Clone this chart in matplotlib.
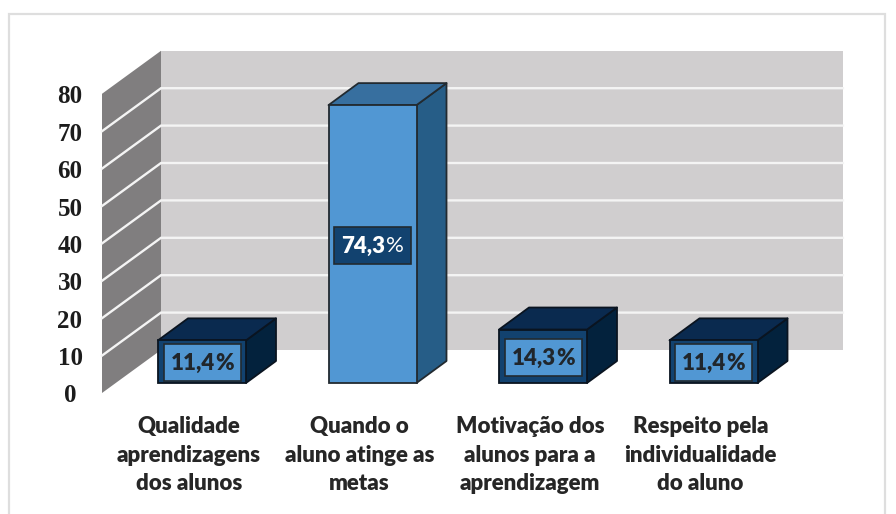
import matplotlib
matplotlib.use('Agg')
import matplotlib.pyplot as plt
from matplotlib.patches import Polygon, Rectangle

categories = ['Qualidade\naprendizagens\ndos alunos',
              'Quando o\naluno atinge as\nmetas',
              'Motivação dos\nalunos para a\naprendizagem',
              'Respeito pela\nindividualidade\ndo aluno']
values = [11.4, 74.3, 14.3, 11.4]
value_labels = ['11,4', '74,3', '14,3', '11,4']
ticks = [0, 10, 20, 30, 40, 50, 60, 70, 80]

W, H = 896, 514
PX_X = 170.5       # pixels per category
PX_Y = 3.74        # pixels per value unit
X0, Y0 = 202, 383  # pixel of category 0 / value 0 at bar front

fig = plt.figure(figsize=(W / 100, H / 100), dpi=100)
ax = fig.add_axes([0, 0, 1, 1])
ax.set_xlim((0 - X0) / PX_X, (W - X0) / PX_X)
ax.set_ylim((Y0 - H) / PX_Y, Y0 / PX_Y)
ax.axis('off')


def dx(px):
    return px / PX_X


def dy(px):
    return px / PX_Y


# outer frame
frame = Rectangle((dx(9 - X0), dy(Y0 - 520)), dx(876), dy(506), fill=False,
                  ec='#dedede', lw=1.6, zorder=1)
ax.add_patch(frame)

# walls
left = dx(102 - X0)
floor = dy(Y0 - 393)
wall_dx, wall_dy = dx(59), dy(43)
right = dx(843 - X0)
top = ticks[-1]

ax.add_patch(Rectangle((left + wall_dx, floor + wall_dy), right - left - wall_dx, top,
                       fc='#d0cecf', ec='none', zorder=2))
ax.add_patch(Polygon([(left, floor), (left + wall_dx, floor + wall_dy),
                      (left + wall_dx, floor + wall_dy + top), (left, floor + top)],
                     fc='#807e7f', ec='none', zorder=2))

for t in ticks[1:-1]:
    y = floor + t
    ax.plot([left, left + wall_dx, right], [y, y + wall_dy, y + wall_dy],
            color='#f4f4f4', lw=1.7, zorder=3, solid_joinstyle='miter')

for t in ticks:
    ax.text(dx(70 - X0), floor + t - dy(3), str(t), ha='center', va='center',
            family='Liberation Serif', fontweight='bold', fontsize=18, color='#1c1c1c',
            zorder=6)

# bars
half = dx(44)
bar_dx, bar_dy = dx(30), dy(22)
for i, v in enumerate(values):
    big = v > 50
    front = '#5197d3' if big else '#12426f'
    side = '#265d87' if big else '#03223d'
    roof = '#376f9f' if big else '#0a2a4f'
    edge = '#222a30' if big else '#0a1420'
    ax.add_patch(Polygon([(i + half, 0), (i + half + bar_dx, bar_dy),
                          (i + half + bar_dx, v + bar_dy), (i + half, v)],
                         fc=side, ec=edge, lw=1.3, zorder=4, joinstyle='round'))
    ax.add_patch(Polygon([(i - half, v), (i + half, v), (i + half + bar_dx, v + bar_dy),
                          (i - half + bar_dx, v + bar_dy)],
                         fc=roof, ec=edge, lw=1.3, zorder=4, joinstyle='round'))
    ax.add_patch(Rectangle((i - half, 0), 2 * half, v, fc=front, ec=edge, lw=1.3, zorder=5))

    # value label box
    box_w, box_h = dx(77), dy(37)
    cy = v / 2 - dy(1)
    ax.add_patch(Rectangle((i - box_w / 2, cy - box_h / 2), box_w, box_h,
                           fc='#12426f' if big else '#5197d3', ec='#222a30', lw=1.2, zorder=6))
    color = 'white' if big else '#20262c'
    ax.text(i + dx(13), cy - dy(1), value_labels[i], ha='right', va='center', family='Lato',
            fontweight='heavy', fontsize=16, color=color, zorder=7)
    ax.text(i + dx(13), cy - dy(1), '%', ha='left', va='center', family='Lato',
            fontweight='normal' if big else 'heavy', fontsize=16, color=color, zorder=7)

    # category label
    ax.text(i - dx(13), dy(Y0 - 455), categories[i], ha='center', va='center', family='Lato',
            fontweight='heavy', fontsize=16, color='#262626', linespacing=1.46, zorder=7)

fig.savefig('out.png', dpi=100)
